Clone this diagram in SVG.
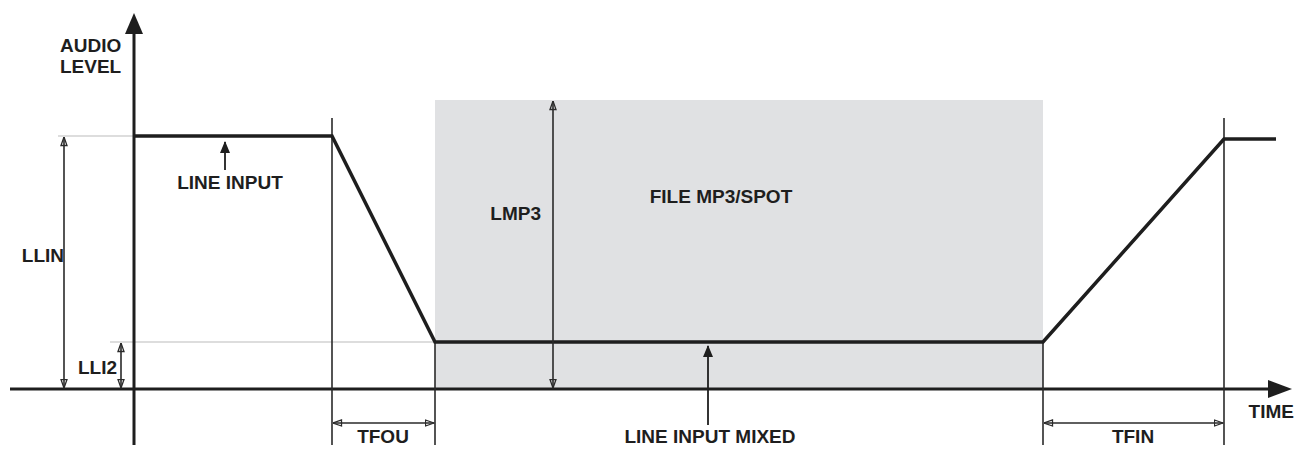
<svg xmlns="http://www.w3.org/2000/svg" width="1307" height="450" viewBox="0 0 1307 450">
<defs>
<style>
.t{font-family:"Liberation Sans",Arial,sans-serif;font-weight:bold;font-size:19px;fill:#1e1e1e}
.ax{stroke:#1e1e1e;stroke-width:3;fill:none}
.lvl{stroke:#1e1e1e;stroke-width:3.5;fill:none;stroke-linejoin:miter}
.thin{stroke:#2a2a2a;stroke-width:1.6;fill:none}
.guide{stroke:#bbb;stroke-width:1;fill:none}
.dim{stroke:#2a2a2a;stroke-width:1.6;fill:none;marker-start:url(#oa);marker-end:url(#oa)}
</style>
<marker id="oa" viewBox="0 0 10 8" refX="9.5" refY="4" markerWidth="10" markerHeight="8" markerUnits="userSpaceOnUse" orient="auto-start-reverse">
<path d="M1,1 L9.5,4 L1,7 Z" fill="none" stroke="#2a2a2a" stroke-width="1.3"/>
</marker>
<marker id="fa" viewBox="0 0 12 12" refX="11" refY="6" markerWidth="12" markerHeight="12" markerUnits="userSpaceOnUse" orient="auto">
<path d="M0,1 L12,6 L0,11 Z" fill="#1e1e1e"/>
</marker>
</defs>
<rect id="file-region" x="435" y="100" width="608" height="289" fill="#e0e1e3"/>
<g id="guides">
<line class="guide" x1="58" y1="136" x2="134" y2="136"/>
<line class="guide" x1="110" y1="342" x2="435" y2="342"/>
</g>
<g id="axes">
<line class="ax" x1="134" y1="30" x2="134" y2="445"/>
<path d="M134,13 L143,34 L125,34 Z" fill="#1e1e1e"/>
<line class="ax" x1="10" y1="389" x2="1272" y2="389"/>
<path d="M1292,389 L1268,380 L1268,398 Z" fill="#1e1e1e"/>
</g>
<g id="connectors">
<line class="thin" x1="332" y1="118" x2="332" y2="445"/>
<line class="thin" x1="435" y1="342" x2="435" y2="445"/>
<line class="thin" x1="1043" y1="342" x2="1043" y2="445"/>
<line class="thin" x1="1224" y1="118" x2="1224" y2="445"/>
<polyline class="lvl" points="134,136 332,136 435,342 1043,342 1224,139 1276,139"/>
<line class="dim" x1="64" y1="137" x2="64" y2="388"/>
<line class="dim" x1="121" y1="343" x2="121" y2="388"/>
<line class="dim" x1="553" y1="101" x2="553" y2="388"/>
<line class="dim" x1="333" y1="423" x2="434" y2="423"/>
<line class="dim" x1="1044" y1="423" x2="1223" y2="423"/>
<line stroke="#1e1e1e" stroke-width="1.8" x1="225" y1="170" x2="225" y2="142" marker-end="url(#fa)"/>
<line stroke="#1e1e1e" stroke-width="1.8" x1="708" y1="425" x2="708" y2="346" marker-end="url(#fa)"/>
</g>
<g id="labels">
<text class="t" x="60" y="52">AUDIO</text>
<text class="t" x="60" y="73">LEVEL</text>
<text class="t" x="230" y="189" text-anchor="middle">LINE INPUT</text>
<text class="t" x="721" y="203" text-anchor="middle">FILE MP3/SPOT</text>
<text class="t" x="541" y="220" text-anchor="end">LMP3</text>
<text class="t" x="64" y="262" text-anchor="end">LLIN</text>
<text class="t" x="117" y="374" text-anchor="end">LLI2</text>
<text class="t" x="383" y="443" text-anchor="middle">TFOU</text>
<text class="t" x="710" y="443" text-anchor="middle">LINE INPUT MIXED</text>
<text class="t" x="1133" y="443" text-anchor="middle">TFIN</text>
<text class="t" x="1294" y="418" text-anchor="end">TIME</text>
</g>
</svg>
